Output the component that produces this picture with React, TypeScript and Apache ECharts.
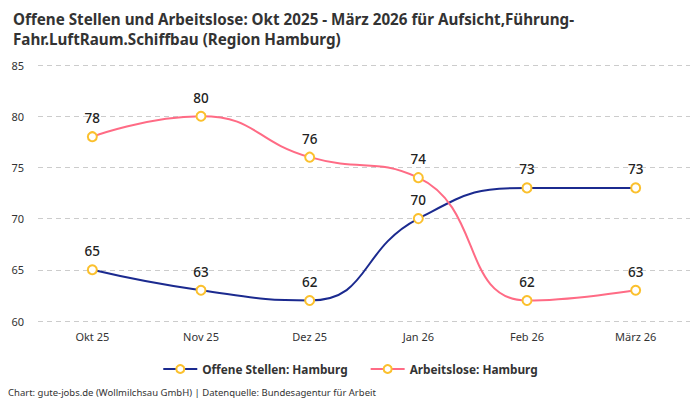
import { useRef, useEffect } from 'react'
import * as echarts from 'echarts'

const months = ['Okt 25', 'Nov 25', 'Dez 25', 'Jan 26', 'Feb 26', 'März 26']
const offeneStellen = [65, 63, 62, 70, 73, 73]
const arbeitslose = [78, 80, 76, 74, 62, 63]

const FONT = '"Noto Sans", sans-serif'
const NAVY = '#1b2a8f'
const PINK = '#ff6b85'
const MARKER = '#fbc02d'

export default function App() {
  const ref = useRef<HTMLDivElement>(null)

  useEffect(() => {
    const el = ref.current
    if (!el) return
    const chart = echarts.init(el, null, { renderer: 'svg' })

    const seriesBase = {
      type: 'line' as const,
      smooth: true,
      symbol: 'circle',
      symbolSize: 9,
      label: {
        show: true,
        position: 'top' as const,
        distance: 6,
        color: '#222',
        fontSize: 13.5,
        fontWeight: 500,
        fontFamily: FONT
      }
    }

    chart.setOption({
      animation: false,
      backgroundColor: '#fff',
      textStyle: { fontFamily: FONT },
      title: {
        text: 'Offene Stellen und Arbeitslose: Okt 2025 - März 2026 für Aufsicht,Führung-\nFahr.LuftRaum.Schiffbau (Region Hamburg)',
        left: 8,
        top: 4,
        textStyle: { fontSize: 15.2, fontWeight: 'bold', color: '#333', lineHeight: 20, fontFamily: FONT }
      },
      graphic: [{
        type: 'text',
        left: 8,
        top: 387,
        style: {
          text: 'Chart: gute-jobs.de (Wollmilchsau GmbH) | Datenquelle: Bundesagentur für Arbeit',
          fill: '#333',
          fontSize: 9.5,
          fontFamily: FONT
        }
      }],
      legend: {
        bottom: 20,
        left: 'center',
        itemWidth: 34,
        itemHeight: 10,
        itemGap: 22,
        textStyle: { fontSize: 11.8, fontWeight: 'bold', color: '#333', fontFamily: FONT }
      },
      grid: { left: 38, right: 10, top: 65, bottom: 79 },
      xAxis: {
        type: 'category',
        data: months,
        axisLine: { show: false },
        axisTick: { show: false },
        axisLabel: { color: '#333', fontSize: 11, margin: 10 }
      },
      yAxis: {
        type: 'value',
        min: 60,
        max: 85,
        interval: 5,
        axisLine: { show: false },
        axisTick: { show: false },
        axisLabel: { color: '#333', fontSize: 11, margin: 14 },
        splitLine: { lineStyle: { color: '#ccc', type: [5, 4] } }
      },
      series: [
        {
          ...seriesBase,
          name: 'Offene Stellen: Hamburg',
          data: offeneStellen,
          lineStyle: { color: NAVY, width: 2 },
          itemStyle: { color: '#fff', borderColor: MARKER, borderWidth: 2 }
        },
        {
          ...seriesBase,
          name: 'Arbeitslose: Hamburg',
          data: arbeitslose,
          lineStyle: { color: PINK, width: 2 },
          itemStyle: { color: '#fff', borderColor: MARKER, borderWidth: 2 }
        }
      ]
    })

    return () => chart.dispose()
  }, [])

  return <div ref={ref} style={{ position: 'fixed', left: 0, top: 0, width: 700, height: 400 }} />
}
